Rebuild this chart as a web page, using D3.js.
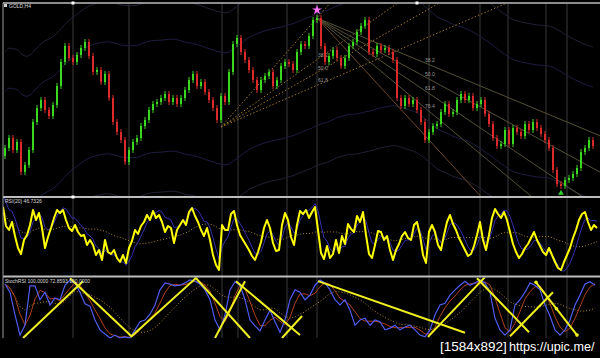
<!DOCTYPE html>
<html>
<head>
<meta charset="utf-8">
<script src="https://cdn.jsdelivr.net/npm/d3@7"></script>
<style>
  html, body { margin: 0; padding: 0; background: #000; }
  svg { display: block; }
  text { font-family: "Liberation Sans", Arial, sans-serif; }
</style>
</head>
<body>
<svg width="600" height="358"></svg>
<script>
// ---- data ----
var firstOpen = 1220;
var closes = [1224,1229,1223,1227,1212,1215.5,1223,1237,1244,1248,
  1243,1240,1245.5,1255,1267,1275,1269,1267,1270.5,1274,
  1277,1270,1262,1263,1257,1261,1249,1237,1232,1228,
  1217,1223,1227,1229,1235,1238,1243,1246,1247,1249,
  1251,1247,1249,1246,1249,1253,1258,1261,1255,1257,
  1252,1248,1244,1238,1250,1247,1262,1276,1279,1272,
  1268,1263,1258,1253,1258,1260,1262,1255,1258,1265,
  1267,1266,1263,1272,1276,1275,1280,1288,1289,1275,
  1267,1270,1273,1269,1265,1269,1275,1277,1282,1285,
  1288,1272,1271,1275,1273,1274,1272,1268,1249,1245,
  1249,1246,1248,1243,1237,1228,1232,1235,1236,1242,
  1246,1241,1242,1248,1251,1248,1250,1244,1246,1248,
  1241,1236,1229,1225,1226,1233,1226,1234,1232,1230,
  1236,1233,1237,1234,1231,1228,1224,1213,1206,1205,
  1208,1209,1211,1214,1222,1224,1228,1225];

// candle indices where the chart's separator lines fall
var sessionBreaks = [17, 31, 54.25, 58.25, 70.5, 78, 106, 118.75, 125.75, 135.25, 140.5];

var rsi = [75.2,60,56.8,63.2,52,42.4,37.6,48.8,52.8,60.8,
  72.8,64.8,70.4,58.4,42.4,51.2,58.4,66.4,72.8,70.4,
  72.8,64.8,58.4,56,60.8,55.2,52,52.8,44.8,48.8,
  44.8,36.8,40.8,32.8,48.8,39.2,37.6,40.8,34.4,31.2,
  36.8,30.4,42.4,48,56.8,53.6,60,63.2,68.8,64.8,
  72,66.4,68.8,63.2,55.2,60,58.4,46.4,56.8,60.8,
  64.8,60.8,71.2,74.4,68,63.2,56.8,52,58.4,48.8,
  36.8,28.8,24.8,60.8,56.8,56.8,69.6,72,60.8,52.8,
  48.8,44.8,40.8,36,32.8,39.2,47.2,58.4,64.8,58.4,
  46.4,40,40.8,60.8,70.4,64.8,51.2,44.8,60.8,72,
  69.6,72.8,66.4,71.2,75.2,56.8,38.4,33.6,44,34.4,
  37.6,48.8,38.4,52,45.6,61.6,57.6,55.2,68,63.2,
  71.2,52.8,37.6,34.4,44.8,56,55.2,48.8,52,40.8,
  32.8,40.8,45.6,52,55.2,50.4,48.8,60.8,63.2,52.8,
  36.8,30.4,55.2,60.8,55.2,44.8,40.8,52.8,63.2,68.8,
  61.6,56.8,50.4,45.6,40.8,36,37.6,44,52.8,63.2,
  48.8,40.8,52.8,66.4,73.6,69.6,66.4,71.2,64.8,55.2,
  45.6,39.2,34.4,37.6,42.4,45.6,50.4,55.2,48.8,44,
  39.2,36.8,42.4,36.8,31.2,26.4,24.8,31.2,36.8,42.4,
  50.4,56.8,64.8,69.6,71.2,63.2,56.8,60.8,58.4];

var stoch = [93,79,40,5,22,90,90,66,79,57,
  69,66,91,100,95,79,59,55,31,14,
  7,0,5,0,2,0,14,28,31,41,
  57,83,95,93,90,91,95,100,98,93,
  83,66,31,14,40,83,97,91,66,31,
  21,12,31,48,28,10,31,66,83,79,
  66,74,91,100,95,83,66,57,66,48,
  22,31,34,22,31,28,14,17,22,14,
  19,22,14,5,2,14,40,57,60,74,
  83,91,98,91,95,100,95,79,34,14,
  5,14,57,66,79,95,91,83,57,38,
  14,5,14,31,57,74,93,97,91];

// hand drawn lines on the stochastic pane: [candle1, value1, candle2, value2]
var trendLines = [
  [4.5, 0, 19.5, 98], [16.25, 103, 31.75, 2],
  [31.5, 2, 48, 105], [47.5, 105, 61.25, 0],
  [52.5, 0, 60, 98], [57.75, 98, 73.75, 5],
  [69.25, 0, 74.25, 38], [78.25, 98, 115, 9],
  [105.75, 2, 120, 105], [118, 103, 131, 10],
  [126.25, 3, 137, 79], [132.75, 96, 143, 5]
];

// fibonacci fan anchors
var fanLow = { i: 54, p: 1234.5 };
var fanHigh = { i: 78, p: 1289 };
var fanEnd = { i: 106, p: 1228 };
var lowFanRatios = [0, 0.382, 0.5, 0.618];
var highFanRatios = [0.382, 0.5, 0.618, 0.764, 1];

// ---- helpers ----
function sma(a, n) {
  return a.map(function (d, i) { return d3.mean(a.slice(Math.max(0, i - n + 1), i + 1)); });
}
function ema(a, k) {
  var out = [], prev = a[0];
  a.forEach(function (d) { prev = prev + k * (d - prev); out.push(prev); });
  return out;
}

var svg = d3.select("svg");
var N = closes.length;
var x = d3.scaleLinear().domain([-0.5, N - 0.5]).range([3, 595]);
var yP = d3.scaleLinear().domain([1200, 1294]).range([196, 8]);
var yR = d3.scaleLinear().domain([20, 80]).range([276, 201]);
var yS = d3.scaleLinear().domain([0, 100]).range([338, 280]);

var defs = svg.append("defs");
[["p1", 4, 193], ["p2", 198, 78], ["p3", 277.5, 61]].forEach(function (c) {
  defs.append("clipPath").attr("id", c[0])
    .append("rect").attr("x", 3).attr("y", c[1]).attr("width", 597).attr("height", c[2]);
});

// grid
svg.append("g").selectAll("line").data(sessionBreaks).enter().append("line")
  .attr("x1", d => x(d)).attr("x2", d => x(d))
  .attr("y1", 4).attr("y2", 338)
  .attr("stroke", "#3a3a3a").attr("stroke-width", 1);

// ---- price pane ----
var p1 = svg.append("g").attr("clip-path", "url(#p1)");

var ma = sma(closes, 30);
[[28, "#1c1c40"], [48, "#202034"], [-28, "#1c1c40"], [-48, "#202034"]].forEach(function (e) {
  p1.append("path")
    .datum(ma)
    .attr("fill", "none").attr("stroke", e[1]).attr("stroke-width", 1)
    .attr("d", d3.line().x((d, i) => x(i)).y(d => yP(d + e[0])).curve(d3.curveBasis));
});

function fanPath(from, thru) {
  var slope = (thru.p - from.p) / (thru.i - from.i);
  var iEnd = N + 5;
  return [[x(from.i), yP(from.p)], [x(iEnd), yP(from.p + slope * (iEnd - from.i))]];
}

lowFanRatios.forEach(function (r) {
  var thru = { i: fanHigh.i, p: fanHigh.p - r * (fanHigh.p - fanLow.p) };
  p1.append("path").attr("d", d3.line()(fanPath(fanLow, thru)))
    .attr("stroke", "#9a7428").attr("stroke-width", 1).attr("stroke-dasharray", "1.5,2").attr("fill", "none");
  if (r > 0) p1.append("text").attr("x", x(thru.i) + 1).attr("y", yP(thru.p) - 3)
    .attr("font-size", 5).attr("fill", "#9a9a9a").text((r * 100).toFixed(1));
});

highFanRatios.forEach(function (r) {
  var thru = { i: fanEnd.i, p: fanHigh.p - r * (fanHigh.p - fanEnd.p) };
  p1.append("path").attr("d", d3.line()(fanPath(fanHigh, thru)))
    .attr("stroke", r === 1 ? "#6e4628" : "#545036").attr("stroke-width", 1).attr("fill", "none");
  if (r < 1) p1.append("text").attr("x", x(thru.i) - 4).attr("y", yP(thru.p) - 3)
    .attr("font-size", 5).attr("fill", "#9a9a9a").text((r * 100).toFixed(1));
});

var candles = closes.map(function (c, i) { return { i: i, o: i ? closes[i - 1] : firstOpen, c: c }; });
var cg = p1.selectAll(".candle").data(candles).enter().append("g").attr("class", "candle");
cg.append("line")
  .attr("x1", d => x(d.i)).attr("x2", d => x(d.i))
  .attr("y1", d => yP(Math.max(d.o, d.c)) - 3).attr("y2", d => yP(Math.min(d.o, d.c)) + 3)
  .attr("stroke", d => d.c >= d.o ? "#3ad81e" : "#dc2a2a").attr("stroke-width", 1);
cg.append("rect")
  .attr("x", d => x(d.i) - 1).attr("width", 2)
  .attr("y", d => yP(Math.max(d.o, d.c)))
  .attr("height", d => Math.max(1, Math.abs(yP(d.o) - yP(d.c))))
  .attr("fill", d => d.c >= d.o ? "#3ad81e" : "#dc2a2a");

svg.append("path")
  .attr("transform", "translate(" + x(fanHigh.i) + "," + (yP(fanHigh.p) - 8) + ")")
  .attr("d", d3.symbol(d3.symbolStar, 30)())
  .attr("fill", "#ff70ff");
svg.append("path")
  .attr("transform", "translate(" + x(139) + "," + (yP(1205) + 7) + ")")
  .attr("d", d3.symbol(d3.symbolTriangle, 14)())
  .attr("fill", "#30d030");

// ---- RSI pane ----
var p2 = svg.append("g").attr("clip-path", "url(#p2)");
var xR = d3.scaleLinear().domain([0, rsi.length - 1]).range([3, 597]);
var rsiBand = ema(rsi, 0.3).map(v => 50 + 1.4 * (v - 50));
var rsiSlow = sma(rsi, 25);
p2.append("path").datum(rsiSlow)
  .attr("d", d3.line().x((d, i) => xR(i)).y(d => yR(d)))
  .attr("fill", "none").attr("stroke", "#b08a3a").attr("stroke-width", 1).attr("stroke-dasharray", "1,2");
p2.append("path").datum(rsiBand)
  .attr("d", d3.line().x((d, i) => xR(i)).y(d => yR(d)))
  .attr("fill", "none").attr("stroke", "#3630b0").attr("stroke-width", 1);
p2.append("path").datum(rsi)
  .attr("d", d3.line().x((d, i) => xR(i)).y(d => yR(d)))
  .attr("fill", "none").attr("stroke", "#ffff00").attr("stroke-width", 2).attr("stroke-linejoin", "round");

// ---- stochastic pane ----
var p3 = svg.append("g").attr("clip-path", "url(#p3)");
var xS = d3.scaleLinear().domain([0, stoch.length - 1]).range([5, 595]);
p3.append("path").datum(sma(stoch, 10))
  .attr("d", d3.line().x((d, i) => xS(i)).y(d => yS(d)))
  .attr("fill", "none").attr("stroke", "#b08a3a").attr("stroke-width", 1).attr("stroke-dasharray", "1,2");
p3.append("path").datum(sma(stoch, 3))
  .attr("d", d3.line().x((d, i) => xS(i)).y(d => yS(d)))
  .attr("fill", "none").attr("stroke", "#b0401c").attr("stroke-width", 1);
p3.append("path").datum(stoch)
  .attr("d", d3.line().x((d, i) => xS(i)).y(d => yS(d)))
  .attr("fill", "none").attr("stroke", "#4f5cf0").attr("stroke-width", 1.2);
p3.selectAll(".tl").data(trendLines).enter().append("line").attr("class", "tl")
  .attr("x1", d => x(d[0])).attr("y1", d => yS(d[1]))
  .attr("x2", d => x(d[2])).attr("y2", d => yS(d[3]))
  .attr("stroke", "#f0f020").attr("stroke-width", 2);
var last = trendLines[trendLines.length - 1];
p3.selectAll(".dot").data([0, 0.5, 1]).enter().append("circle")
  .attr("cx", t => x(last[0] + t * (last[2] - last[0])))
  .attr("cy", t => yS(last[1] + t * (last[3] - last[1])))
  .attr("r", 1.8).attr("fill", "#f0f020");

// ---- frame ----
[3, 197, 276.5].forEach(function (y) {
  svg.append("line").attr("x1", 3).attr("x2", 600).attr("y1", y).attr("y2", y)
    .attr("stroke", "#bdbdbd").attr("stroke-width", y === 3 ? 1.5 : 2);
});
svg.append("line").attr("x1", 3).attr("x2", 3).attr("y1", 3).attr("y2", 338)
  .attr("stroke", "#9a9a9a").attr("stroke-width", 1);
[[73, 3], [73, 197], [417, 3]].forEach(function (m) {
  svg.append("rect").attr("x", m[0] - 1.5).attr("y", m[1] - 1.5).attr("width", 3).attr("height", 3).attr("fill", "#fff");
});

svg.append("rect").attr("x", 4).attr("y", 4).attr("width", 3).attr("height", 3).attr("fill", "#cfcfcf");
svg.append("text").attr("x", 9).attr("y", 7.5).attr("font-size", 5).attr("fill", "#dcdcdc").text("GOLD,H4");
svg.append("text").attr("x", 5).attr("y", 203).attr("font-size", 5).attr("fill", "#dcdcdc").text("RSI(20) 46.7326");
svg.append("text").attr("x", 5).attr("y", 283).attr("font-size", 5).attr("fill", "#dcdcdc").text("StochRSI 100.0000 72.8593 100.0000");

// watermark
svg.append("text").attr("x", 440).attr("y", 351).attr("font-size", 13.5).attr("fill", "#fff").text("[1584x892]");
svg.append("text").attr("x", 509).attr("y", 351).attr("font-size", 12.6).attr("fill", "#fff").text("https://upic.me/");
</script>
</body>
</html>
